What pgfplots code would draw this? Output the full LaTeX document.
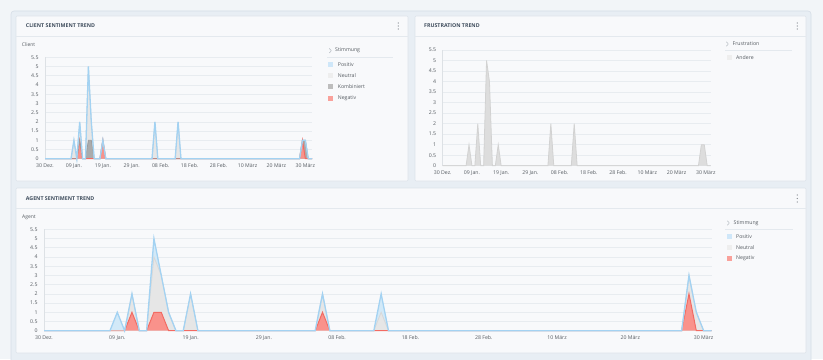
\documentclass[border=0pt]{standalone}
\usepackage{pgfplots}
\pgfplotsset{compat=1.18}
\usepackage{pgfplotstable}
\usepackage{fontspec}
\setmainfont{Open Sans}

\definecolor{pagebg}{HTML}{F2F5F8}
\definecolor{contbg}{HTML}{E8EEF4}
\definecolor{contborder}{HTML}{D6DEE7}
\definecolor{panelbg}{HTML}{F8F9FB}
\definecolor{panelborder}{HTML}{DCE3EA}
\definecolor{sepcol}{HTML}{E4E9EE}
\definecolor{titlecol}{HTML}{3E4C5C}
\definecolor{textcol}{HTML}{555B61}
\definecolor{gridcol}{HTML}{E8ECF0}
\definecolor{axiscol}{HTML}{DDE1E5}
\definecolor{posfill}{HTML}{D2E9F8}
\definecolor{posline}{HTML}{A3D2F2}
\definecolor{neufill}{HTML}{E6E6E6}
\definecolor{neuline}{HTML}{D8D8D8}
\definecolor{kombfill}{HTML}{ABABAB}
\definecolor{kombline}{HTML}{9C9C9C}
\definecolor{negfill}{HTML}{F9928B}
\definecolor{negline}{HTML}{F26B63}
\definecolor{andfill}{HTML}{DDDDDD}
\definecolor{andline}{HTML}{D2D2D2}
\definecolor{legpos}{HTML}{CFE7F9}
\definecolor{legneu}{HTML}{EEEEEE}
\definecolor{legkomb}{HTML}{BDBDBD}
\definecolor{legneg}{HTML}{F9A19B}
\definecolor{dotcol}{HTML}{7A7F85}
\definecolor{chevcol}{HTML}{B5BBC2}

\newcommand\tf{\fontsize{5.2}{6}\selectfont}
\newcommand\ttl{\fontsize{5.3}{6}\selectfont\bfseries}

\pgfplotstableread{
x neg komb neu pos
0 0 0 0 0
9 0 0 0 0
10 0 0 1 0
11 0 0 0 0
12 1 0 1 0
13 0 0 0 0
14 0 0 0 0
15 0 1 4 0
16 0 1 1 0
17 0 0 0 0
19 0 0 0 0
20 1 0 0 0
21 0 0 0 0
37 0 0 0 0
38 0 0 2 0
39 0 0 0 0
45 0 0 0 0
46 0 0 2 0
47 0 0 0 0
88 0 0 0 0
89 1 0 0 0
90 0 1 0 0
91 0 0 0 0
92.3 0 0 0 0
}\clientdata

\pgfplotstableread{
x y
0 0
8 0
9 1
10 0
11 0
12 2
13 0
14 0
15 5
16 4
17 0
18 0
19 1
20 0
36 0
37 2
38 0
44 0
45 2
46 0
87.5 0
88.5 1
89.5 1
90.5 0
91.7 0
}\frustdata

\pgfplotstableread{
x neg neu pos
0 0 0 0
9 0 0 0
10 0 0 1
11 0 0 0
12 1 1 0
13 0 0 0
14 0 0 0
15 1 3 1
16 1 2 0
17 0 1 0
18 0 0 0
19 0 0 0
20 0 2 0
21 0 0 0
37 0 0 0
38 1 1 0
39 0 0 0
45 0 0 0
46 0 1 1
47 0 0 0
87 0 0 0
88 2 1 0
89 0 1 0
90 0 0 0
91.1 0 0 0
}\agentdata

\pgfplotsset{
  dash/.style={
    scale only axis, anchor=south west, clip=false,
    ymin=0, ymax=5.5, xmin=0,
    ytick={0,0.5,...,5.5},
    xtick={0,10,...,90},
    xticklabels={30 Dez., 09 Jan., 19 Jan., 29 Jan., 08 Feb., 18 Feb., 28 Feb., 10 März, 20 März, 30 März},
    /pgf/number format/assume math mode=true,
    axis x line*=bottom, axis y line*=left,
    axis line style={-, draw=axiscol, line width=0.6bp},
    major tick length=0pt, tick style={draw=none},
    ymajorgrids, major grid style={draw=gridcol, line width=0.6bp},
    yticklabel style={font=\tf, text=textcol, xshift=-3bp},
    xticklabel style={font=\tf, text=textcol, yshift=-1.5bp},
  }
}

\begin{document}
\begin{tikzpicture}[x=1bp,y=1bp]
% backgrounds
\fill[pagebg] (0,0) rectangle (823,359);
\filldraw[fill=contbg, draw=contborder, line width=0.6bp, rounded corners=3bp] (11,-10) rectangle (811,348);
\filldraw[fill=panelbg, draw=panelborder, line width=0.6bp, rounded corners=1bp] (16,178) rectangle (408,343);
\filldraw[fill=panelbg, draw=panelborder, line width=0.6bp, rounded corners=1bp] (415,178) rectangle (806,343);
\filldraw[fill=panelbg, draw=panelborder, line width=0.6bp, rounded corners=1bp] (16,6) rectangle (806,171);
\draw[sepcol, line width=0.7bp] (16,322.3) -- (408,322.3);
\draw[sepcol, line width=0.7bp] (415,322.3) -- (806,322.3);
\draw[sepcol, line width=0.7bp] (16,150.3) -- (806,150.3);
% titles
\node[anchor=west, inner sep=0pt, text=titlecol, font=\ttl] at (25.7,333) {CLIENT SENTIMENT TREND};
\node[anchor=west, inner sep=0pt, text=titlecol, font=\ttl] at (424,333) {FRUSTRATION TREND};
\node[anchor=west, inner sep=0pt, text=titlecol, font=\ttl] at (25.7,160.7) {AGENT SENTIMENT TREND};
% menu dots
\foreach \yy in {336,333,330} {\fill[dotcol] (398.3,\yy) circle (0.65); \fill[dotcol] (797.3,\yy) circle (0.65);}
\foreach \yy in {164,160.5,157} {\fill[dotcol] (797.3,\yy) circle (0.65);}
% axis captions
\node[anchor=west, inner sep=0pt, text=textcol, font=\fontsize{5}{6}\selectfont] at (21.7,314) {Client};
\node[anchor=west, inner sep=0pt, text=textcol, font=\fontsize{5}{6}\selectfont] at (22,142) {Agent};

% client legend
\draw[chevcol, line width=0.5bp] (329.3,310.6) -- (331.3,308.3) -- (329.3,306);
\node[anchor=west, inner sep=0pt, text=textcol, font=\tf] at (335,308.3) {Stimmung};
\draw[sepcol, line width=0.7bp] (327,302) -- (393,302);
\fill[legpos] (328,292.2) rectangle (333,297.2);
\node[anchor=west, inner sep=0pt, text=textcol, font=\tf] at (337.7,294.7) {Positiv};
\fill[legneu] (328,280.8) rectangle (333,285.8);
\node[anchor=west, inner sep=0pt, text=textcol, font=\tf] at (337.7,283.3) {Neutral};
\fill[legkomb] (328,269.8) rectangle (333,274.8);
\node[anchor=west, inner sep=0pt, text=textcol, font=\tf] at (337.7,272.3) {Kombiniert};
\fill[legneg] (328,258.2) rectangle (333,263.2);
\node[anchor=west, inner sep=0pt, text=textcol, font=\tf] at (337.7,260.7) {Negativ};

% frustration legend
\draw[chevcol, line width=0.5bp] (726.3,317.3) -- (728.3,315) -- (726.3,312.7);
\node[anchor=west, inner sep=0pt, text=textcol, font=\tf] at (732.5,315) {Frustration};
\draw[sepcol, line width=0.7bp] (725,309) -- (792,309);
\fill[legneu] (727,298.8) rectangle (732,303.8);
\node[anchor=west, inner sep=0pt, text=textcol, font=\tf] at (736,301.3) {Andere};

% agent legend
\draw[chevcol, line width=0.5bp] (727.3,138.3) -- (729.3,136) -- (727.3,133.7);
\node[anchor=west, inner sep=0pt, text=textcol, font=\tf] at (733.5,136) {Stimmung};
\draw[sepcol, line width=0.7bp] (725,129.7) -- (793,129.7);
\fill[legpos] (727,120.2) rectangle (732,125.2);
\node[anchor=west, inner sep=0pt, text=textcol, font=\tf] at (736,122.7) {Positiv};
\fill[legneu] (727,108.8) rectangle (732,113.8);
\node[anchor=west, inner sep=0pt, text=textcol, font=\tf] at (736,111.3) {Neutral};
\fill[legneg] (727,97.8) rectangle (732,102.8);
\node[anchor=west, inner sep=0pt, text=textcol, font=\tf] at (736,100.3) {Negativ};

% ---------- Client sentiment ----------
\begin{axis}[dash, at={(45bp,200.3bp)}, width=267bp, height=101.4bp, xmax=92.3]
\addplot[draw=none, fill=posfill] table[x=x, y expr=\thisrow{neg}+\thisrow{komb}+\thisrow{neu}+\thisrow{pos}] {\clientdata} \closedcycle;
\addplot[draw=none, fill=neufill] table[x=x, y expr=\thisrow{neg}+\thisrow{komb}+\thisrow{neu}] {\clientdata} \closedcycle;
\addplot[draw=none, fill=kombfill] table[x=x, y expr=\thisrow{neg}+\thisrow{komb}] {\clientdata} \closedcycle;
\addplot[draw=none, fill=negfill] table[x=x, y=neg] {\clientdata} \closedcycle;
\addplot[negline, line width=1bp] table[x=x, y=neg] {\clientdata};
\addplot[kombline, line width=0.8bp] table[x=x, y expr=\thisrow{neg}+\thisrow{komb}] {\clientdata};
\addplot[neuline, line width=0.8bp] table[x=x, y expr=\thisrow{neg}+\thisrow{komb}+\thisrow{neu}] {\clientdata};
\addplot[posline, line width=1.3bp] table[x=x, y expr=\thisrow{neg}+\thisrow{komb}+\thisrow{neu}+\thisrow{pos}] {\clientdata};
\end{axis}

% ---------- Frustration ----------
\begin{axis}[dash, at={(442.7bp,193.3bp)}, width=268bp, height=115.7bp, xmax=91.7]
\addplot[draw=none, fill=andfill] table[x=x, y=y] {\frustdata} \closedcycle;
\addplot[andline, line width=0.8bp] table[x=x, y=y] {\frustdata};
\end{axis}

% ---------- Agent sentiment ----------
\begin{axis}[dash, at={(44bp,28.3bp)}, width=667.7bp, height=101.4bp, xmax=91.1]
\addplot[draw=none, fill=posfill] table[x=x, y expr=\thisrow{neg}+\thisrow{neu}+\thisrow{pos}] {\agentdata} \closedcycle;
\addplot[draw=none, fill=neufill] table[x=x, y expr=\thisrow{neg}+\thisrow{neu}] {\agentdata} \closedcycle;
\addplot[draw=none, fill=negfill] table[x=x, y=neg] {\agentdata} \closedcycle;
\addplot[negline, line width=1bp] table[x=x, y=neg] {\agentdata};
\addplot[neuline, line width=0.8bp] table[x=x, y expr=\thisrow{neg}+\thisrow{neu}] {\agentdata};
\addplot[posline, line width=1.3bp] table[x=x, y expr=\thisrow{neg}+\thisrow{neu}+\thisrow{pos}] {\agentdata};
\end{axis}

\pgfresetboundingbox
\path[use as bounding box] (0,0) rectangle (823,359);
\end{tikzpicture}
\end{document}
